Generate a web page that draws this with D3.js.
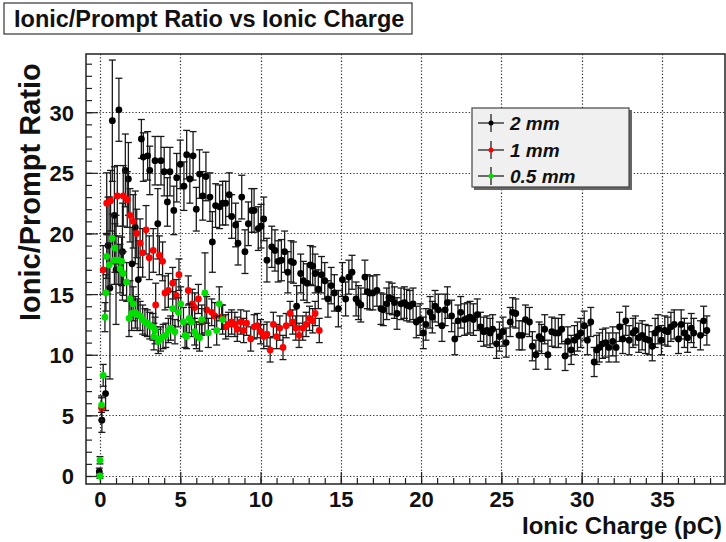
<!DOCTYPE html>
<html><head><meta charset="utf-8">
<script src="https://cdn.jsdelivr.net/npm/d3@7"></script>
<style>
html,body{margin:0;padding:0;background:#fff;}
svg text{font-family:"Liberation Sans",Arial,Helvetica,sans-serif;font-weight:bold;}
</style></head>
<body><svg id="c" width="726" height="542"></svg>
<script>
// ---- data: [ionic charge (pC), ratio, error] ----
const seriesNames = ["2 mm", "1 mm", "0.5 mm"];
const seriesColors = ["#000000", "#ff0000", "#00e000"];
const xTicks = [0, 5, 10, 15, 20, 25, 30, 35];
const yTicks = [0, 5, 10, 15, 20, 25, 30];

const black2mm = [
[-0.04,0.35,0.3],[0.12,4.6,1.0],[0.35,6.8,1.4],[0.5,19.0,4.0],[0.62,15.5,7.5],[0.77,29.3,5.0],[0.9,21.5,4.0],[1.0,17.0,4.5],
[1.18,30.2,2.6],[1.4,18.5,4.0],[1.58,25.2,3.0],[1.77,24.5,3.0],[2.0,17.5,3.0],[2.2,20.5,3.0],[2.39,16.2,3.2],[2.58,27.8,1.6],
[2.7,26.3,2.0],[2.97,26.4,2.0],[3.1,25.2,2.0],[3.43,26.0,2.0],[3.6,20.8,2.9],[3.8,26.0,2.0],[4.0,25.1,2.0],[4.2,22.6,2.0],
[4.36,25.1,2.0],[4.6,21.9,2.0],[4.78,24.6,2.0],[5.0,25.7,2.0],[5.23,23.9,2.0],[5.4,26.5,2.0],[5.6,24.5,2.0],[5.8,26.4,2.0],
[6.0,22.0,1.8],[6.2,24.9,2.0],[6.4,23.1,2.0],[6.6,24.7,2.0],[6.85,23.0,2.0],[7.0,19.3,2.5],[7.2,22.3,1.8],[7.45,22.2,1.8],
[7.64,22.5,1.8],[7.83,22.5,1.8],[8.05,23.2,1.8],[8.2,21.4,1.8],[8.45,20.7,1.8],[8.6,19.2,1.8],[8.83,23.0,1.8],[9.03,18.5,1.8],
[9.24,20.8,1.8],[9.45,21.9,1.8],[9.6,21.9,1.8],[9.86,20.4,1.8],[10.03,20.6,1.8],[10.2,21.2,1.8],[10.4,17.8,1.8],[10.7,18.9,1.7],
[10.9,18.6,1.7],[11.1,17.7,1.7],[11.3,17.8,1.7],[11.5,18.5,1.7],[11.7,16.8,1.7],[11.9,17.7,1.7],[12.05,17.6,1.7],[12.25,14.0,1.7],
[12.5,16.7,1.6],[12.67,16.1,1.6],[12.9,15.9,1.6],[13.1,17.4,1.6],[13.25,17.3,1.6],[13.4,16.7,1.6],[13.6,15.4,1.6],[13.8,16.6,1.5],
[14.0,16.1,1.5],[14.2,14.6,1.5],[14.4,15.7,1.5],[14.6,15.1,1.5],[14.85,13.8,1.5],[15.1,16.2,1.4],[15.3,14.6,1.4],[15.5,16.4,1.4],
[15.7,16.8,1.4],[15.95,14.6,1.4],[16.1,14.3,1.4],[16.25,14.1,1.4],[16.5,16.4,1.4],[16.65,15.2,1.4],[16.8,15.1,1.4],[17.0,15.1,1.4],
[17.25,15.3,1.3],[17.5,13.8,1.3],[17.65,13.7,1.3],[17.86,14.2,1.3],[18.0,14.7,1.3],[18.2,14.6,1.3],[18.34,14.3,1.3],[18.5,13.4,1.3],
[18.75,14.2,1.3],[18.96,14.3,1.3],[19.1,14.1,1.3],[19.3,14.0,1.3],[19.5,14.2,1.3],[19.7,12.7,1.3],[19.94,12.9,1.3],[20.14,11.8,1.3],
[20.3,12.5,1.3],[20.56,13.5,1.3],[20.7,13.1,1.3],[20.87,14.0,1.3],[21.08,13.7,1.3],[21.3,12.4,1.3],[21.5,13.7,1.3],[21.64,14.3,1.3],
[21.9,13.2,1.3],[22.1,11.3,1.3],[22.3,12.8,1.3],[22.47,13.5,1.3],[22.7,12.9,1.3],[22.9,13.0,1.3],[23.05,13.1,1.3],[23.26,12.9,1.3],
[23.5,13.3,1.3],[23.7,12.3,1.2],[23.9,11.9,1.2],[24.1,12.0,1.2],[24.3,11.8,1.2],[24.46,12.1,1.2],[24.7,10.9,1.2],[24.88,11.5,1.2],
[25.1,11.9,1.2],[25.3,11.0,1.2],[25.55,12.7,1.2],[25.7,13.5,1.2],[25.9,13.4,1.2],[26.1,11.6,1.2],[26.3,11.6,1.2],[26.5,12.9,1.2],
[26.75,12.7,1.2],[26.93,10.7,1.2],[27.15,10.0,1.2],[27.35,11.5,1.2],[27.5,11.3,1.2],[27.7,12.1,1.2],[27.9,10.0,1.2],[28.14,11.9,1.2],
[28.35,11.8,1.2],[28.55,11.8,1.2],[28.76,12.1,1.2],[28.97,9.9,1.2],[29.14,11.1,1.2],[29.35,10.4,1.2],[29.55,11.2,1.2],[29.74,11.5,1.2],
[29.95,11.8,1.2],[30.16,12.4,1.2],[30.36,11.2,1.2],[30.57,12.7,1.2],[30.78,9.4,1.2],[30.94,10.4,1.2],[31.1,10.6,1.2],[31.3,10.9,1.2],
[31.5,11.0,1.2],[31.7,10.6,1.2],[31.94,11.1,1.2],[32.15,10.6,1.2],[32.36,12.3,1.2],[32.56,11.3,1.2],[32.75,12.8,1.2],[32.96,11.2,1.2],
[33.2,11.8,1.2],[33.35,12.0,1.2],[33.56,11.4,1.2],[33.77,11.6,1.2],[33.97,11.3,1.2],[34.2,11.2,1.2],[34.4,10.7,1.2],[34.58,11.8,1.2],
[34.76,12.1,1.2],[34.97,11.2,1.2],[35.18,12.0,1.2],[35.37,11.9,1.2],[35.56,12.3,1.2],[35.77,12.5,1.2],[36.03,11.3,1.2],[36.2,12.5,1.2],
[36.4,11.8,1.2],[36.6,11.4,1.2],[36.83,12.2,1.2],[36.98,11.8,1.2],[37.4,11.6,1.2],[37.6,12.8,1.2],[37.8,12.0,1.2]
];

const red1mm = [
[0.1,5.6,1.0],[0.2,17.0,2.0],[0.42,22.5,2.5],[0.66,22.7,2.5],[1.08,23.1,2.5],[1.45,23.1,2.5],[1.7,22.8,2.3],[1.87,21.5,2.2],
[2.07,21.0,2.2],[2.29,20.0,2.0],[2.5,19.2,2.0],[2.66,18.4,2.0],[2.87,20.3,2.0],[3.07,18.0,1.8],[3.32,18.6,1.8],[3.47,14.1,1.8],
[3.7,18.2,1.6],[3.9,17.7,1.6],[4.05,15.1,1.4],[4.26,15.3,1.4],[4.53,15.9,1.3],[4.74,14.9,1.3],[4.92,16.6,1.3],[5.5,15.3,1.2],
[5.75,14.2,1.2],[5.9,13.9,1.2],[6.13,14.6,1.2],[6.34,12.7,1.1],[6.65,13.7,1.1],[6.96,13.5,1.1],[7.15,13.2,1.1],[7.58,13.1,1.0],
[7.83,12.3,1.0],[8.0,12.5,1.0],[8.2,12.7,1.0],[8.4,12.5,1.0],[8.55,12.1,1.0],[8.77,12.7,1.0],[8.95,12.0,1.0],[9.13,12.6,1.0],
[9.39,11.3,1.0],[9.6,12.3,1.0],[9.8,12.4,1.0],[10.0,11.9,1.0],[10.2,11.5,1.0],[10.4,11.7,1.0],[10.6,10.4,1.0],[10.8,12.5,1.0],
[11.0,11.5,1.0],[11.2,12.2,1.0],[11.4,10.6,1.0],[11.6,12.4,1.0],[11.84,13.4,1.0],[12.0,12.7,1.0],[12.2,12.2,1.0],[12.4,11.6,1.0],
[12.63,12.2,1.0],[12.84,12.5,1.0],[13.05,13.0,1.0],[13.25,12.8,1.0],[13.4,13.4,1.0],[13.66,12.0,1.0]
];

const green05mm = [
[0.0,0.0,0.2],[0.0,1.3,0.3],[0.1,5.85,0.6],[0.2,8.3,0.9],[0.31,13.1,1.2],[0.37,15.1,1.5],[0.42,18.1,1.8],[0.58,17.4,1.8],
[0.77,19.6,2.0],[0.9,17.8,2.0],[0.93,18.8,2.0],[1.14,17.8,2.0],[1.25,17.1,2.0],[1.35,17.7,2.0],[1.45,16.7,1.8],[1.66,16.0,1.6],
[1.81,13.0,1.5],[1.87,14.6,1.5],[1.97,13.4,1.4],[2.07,14.2,1.4],[2.2,13.5,1.3],[2.32,13.3,1.3],[2.5,13.2,1.2],[2.66,12.9,1.2],
[2.8,12.7,1.1],[2.95,12.6,1.1],[3.1,12.4,1.1],[3.3,12.3,1.1],[3.36,11.5,1.1],[3.43,12.0,1.1],[3.63,11.1,1.0],[3.77,11.3,1.0],
[3.93,11.5,1.0],[4.1,11.6,1.0],[4.26,12.0,1.0],[4.4,12.2,1.0],[4.53,13.8,1.4],[4.67,11.9,1.0],[4.88,13.5,1.2],[5.03,14.2,1.4],
[5.2,12.7,1.2],[5.3,11.6,1.0],[5.4,11.5,1.0],[5.56,13.0,1.2],[5.7,12.7,1.2],[5.9,11.9,1.1],[6.0,11.6,1.1],[6.2,11.4,1.1],
[6.34,12.9,1.2],[6.54,15.1,3.3],[6.75,11.8,1.2],[7.27,12.0,1.2],[7.43,14.2,1.4],[7.64,12.9,1.2]
];

// ---- layout ----
const svg = d3.select("#c");
const L = 86, R = 725, T = 54, B = 484;
const x = d3.scaleLinear().domain([-0.87, 38.93]).range([L, R]);
const y = d3.scaleLinear().domain([-0.66, 34.8]).range([B, T]);

svg.append("rect").attr("width",726).attr("height",542).attr("fill","#fff");

// grid
const grid = svg.append("g").attr("stroke","#333").attr("stroke-width",1.2).attr("stroke-dasharray","1.3,2");
grid.selectAll("line.gx").data(xTicks).join("line").attr("class","gx")
  .attr("x1",d=>Math.round(x(d))+0.5).attr("x2",d=>Math.round(x(d))+0.5).attr("y1",T).attr("y2",B);
grid.selectAll("line.gy").data(yTicks).join("line").attr("class","gy")
  .attr("y1",d=>Math.round(y(d))+0.5).attr("y2",d=>Math.round(y(d))+0.5).attr("x1",L).attr("x2",R);

// axes
const xMinor = d3.range(0, 39, 1);
const yMinor = d3.range(0, 35, 1);
function styleAxis(g){ g.select(".domain").remove(); g.selectAll("line").attr("stroke","#222").attr("stroke-width",1.2); }
svg.append("g").attr("transform",`translate(0,${B})`)
  .call(d3.axisBottom(x).tickValues(xMinor).tickSize(-6).tickFormat(""))
  .call(styleAxis);
const gx = svg.append("g").attr("transform",`translate(0,${B})`)
  .call(d3.axisBottom(x).tickValues(xTicks).tickSize(-12).tickPadding(23).tickFormat(d3.format("d")))
  .call(styleAxis);
gx.selectAll("text").attr("font-size",22).attr("fill","#111").attr("dy","0");
svg.append("g").attr("transform",`translate(${L},0)`)
  .call(d3.axisLeft(y).tickValues(yMinor).tickSize(-6).tickFormat(""))
  .call(styleAxis);
const gy = svg.append("g").attr("transform",`translate(${L},0)`)
  .call(d3.axisLeft(y).tickValues(yTicks).tickSize(-12).tickPadding(12).tickFormat(d3.format("d")))
  .call(styleAxis);
gy.selectAll("text").attr("font-size",22).attr("fill","#111").attr("dy","0.36em");

// frame
svg.append("rect").attr("x",L).attr("y",T).attr("width",R-L).attr("height",B-T)
  .attr("fill","none").attr("stroke","#222").attr("stroke-width",1.5);

// graphs
const series = [black2mm, red1mm, green05mm];
series.forEach((data,i)=>{
  const g = svg.append("g");
  const eb = g.append("g").attr("stroke","#1a1a1a").attr("stroke-width",1.3).attr("fill","none");
  eb.selectAll("line.v").data(data).join("line").attr("class","v")
    .attr("x1",d=>x(d[0])).attr("x2",d=>x(d[0]))
    .attr("y1",d=>y(Math.min(d[1]+d[2],34.8))).attr("y2",d=>y(Math.max(d[1]-d[2],-0.66)));
  eb.selectAll("line.t").data(data.filter(d=>d[1]+d[2]<34.8)).join("line").attr("class","t")
    .attr("x1",d=>x(d[0])-3.5).attr("x2",d=>x(d[0])+3.5)
    .attr("y1",d=>y(d[1]+d[2])).attr("y2",d=>y(d[1]+d[2]));
  eb.selectAll("line.b").data(data.filter(d=>d[1]-d[2]>-0.66)).join("line").attr("class","b")
    .attr("x1",d=>x(d[0])-3.5).attr("x2",d=>x(d[0])+3.5)
    .attr("y1",d=>y(d[1]-d[2])).attr("y2",d=>y(d[1]-d[2]));
  g.selectAll("circle").data(data).join("circle")
    .attr("cx",d=>x(d[0])).attr("cy",d=>y(d[1])).attr("r",3.4).attr("fill",seriesColors[i]);
});

// legend
const lg = svg.append("g");
lg.append("rect").attr("x",474).attr("y",110).attr("width",158).attr("height",80).attr("fill","#666");
lg.append("rect").attr("x",472).attr("y",108).attr("width",157).attr("height",79)
  .attr("fill","#f0f0f0").attr("stroke","#444").attr("stroke-width",1.2);
const legY = [123, 150, 176];
seriesNames.forEach((n,i)=>{
  const e = lg.append("g");
  e.append("line").attr("x1",478).attr("x2",504).attr("y1",legY[i]).attr("y2",legY[i]).attr("stroke","#222").attr("stroke-width",1.3);
  e.append("line").attr("x1",491).attr("x2",491).attr("y1",legY[i]-9).attr("y2",legY[i]+9).attr("stroke","#222").attr("stroke-width",1.3);
  e.append("circle").attr("cx",491).attr("cy",legY[i]).attr("r",2.5).attr("fill",seriesColors[i]);
  e.append("text").attr("x",510).attr("y",legY[i]).attr("dy","0.36em").attr("font-size",19)
    .attr("font-style","italic").attr("fill","#111").text(n);
});

// title box
svg.append("rect").attr("x",4).attr("y",3).attr("width",408).attr("height",31)
  .attr("fill","#fff").attr("stroke","#333").attr("stroke-width",1.2);
svg.append("text").attr("x",14).attr("y",27).attr("font-size",23.5).attr("fill","#111")
  .text("Ionic/Prompt Ratio vs Ionic Charge");

// axis titles
svg.append("text").attr("transform","translate(40,321) rotate(-90)").attr("text-anchor","start")
  .attr("font-size",29).attr("fill","#111").text("Ionic/Prompt Ratio");
svg.append("text").attr("x",722).attr("y",534).attr("text-anchor","end")
  .attr("font-size",24).attr("fill","#111").text("Ionic Charge (pC)");
</script></body></html>
